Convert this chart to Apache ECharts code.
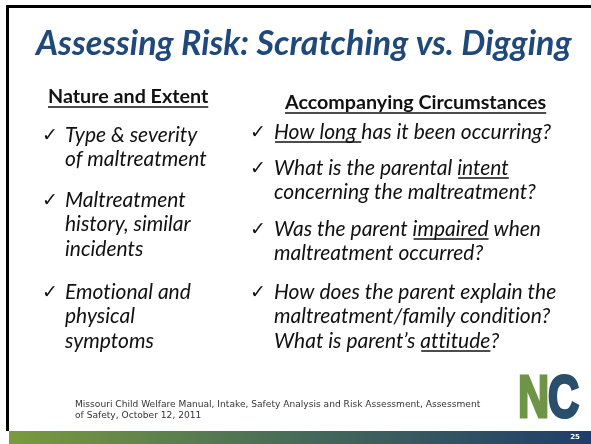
<!DOCTYPE html>
<html><head><meta charset="utf-8">
<script src="https://cdn.jsdelivr.net/npm/echarts@6/dist/echarts.min.js"></script>
<style>html,body{margin:0;padding:0;background:#fff}#c{width:591px;height:444px}</style>
</head><body><div id="c"></div>
<script>
const title = 'Assessing Risk: Scratching vs. Digging';
const leftHeading = 'Nature and Extent';
const rightHeading = 'Accompanying Circumstances';
// each item: lines; each line: segments [text, underlined]
const leftItems = [
  [[['Type & severity', 0]], [['of maltreatment', 0]]],
  [[['Maltreatment', 0]], [['history, similar', 0]], [['incidents', 0]]],
  [[['Emotional and', 0]], [['physical', 0]], [['symptoms', 0]]]
];
const rightItems = [
  [[['How long ', 1], ['has it been occurring?', 0]]],
  [[['What is the parental ', 0], ['intent', 1]], [['concerning the maltreatment?', 0]]],
  [[['Was the parent ', 0], ['impaired', 1], [' when', 0]], [['maltreatment occurred?', 0]]],
  [[['How does the parent explain the', 0]], [['maltreatment/family condition?', 0]], [['What is parent\u2019s ', 0], ['attitude', 1], ['?', 0]]]
];
const footnote = ['Missouri Child Welfare Manual, Intake, Safety Analysis and Risk Assessment, Assessment', 'of Safety, October 12, 2011'];
const logoLetters = ['N', 'C'];
const logoColors = ['#6e9447', '#2a4f6c'];
const pageNumber = '25';

const chart = echarts.init(document.getElementById('c'), null, {renderer: 'canvas'});
const ctx = document.createElement('canvas').getContext('2d');
function noLig(t) { return t.replace(/t(?=[ift])/g, 't\u200C').replace(/f(?=[ilft])/g, 'f\u200C'); }
function measure(t, font) { ctx.font = font; return ctx.measureText(noLig(t)).width; }

const TITLE_FONT = 'italic bold 34px Lato';
const HEAD_FONT = 'bold 19.7px Lato';
const BODY_FONT = 'italic 21px Lato';
const CHECK_FONT = '19px "DejaVu Sans"';
const FOOT_FONT = '9.1px "DejaVu Sans"';
const textColor = '#111';

const els = [];
function txt(x, y, t, font, fill, align) {
  els.push({type: 'text', x: x, y: y, silent: true,
    style: {text: noLig(t), font: font, fill: fill, textAlign: align || 'left', textVerticalAlign: 'middle'}});
}
function uline(x1, x2, y, color, w) {
  els.push({type: 'line', silent: true, shape: {x1: x1, y1: y, x2: x2, y2: y}, style: {stroke: color, lineWidth: w}});
}

// frame
els.push({type: 'rect', silent: true, shape: {x: 6, y: 5, width: 585, height: 3}, style: {fill: '#000'}});
els.push({type: 'rect', silent: true, shape: {x: 6, y: 5, width: 3, height: 426}, style: {fill: '#000'}});
// bottom bar
els.push({type: 'rect', silent: true, shape: {x: 9, y: 431, width: 582, height: 13},
  style: {fill: new echarts.graphic.LinearGradient(0, 0, 1, 0, [
    {offset: 0, color: '#7a9b3d'}, {offset: 0.45, color: '#4a6f57'}, {offset: 1, color: '#1f3d6b'}])}});
txt(575, 437.5, pageNumber, 'bold 7px "DejaVu Sans"', '#fff', 'center');

// title
txt(36, 44, title, TITLE_FONT, '#1f497d');

// headings
function heading(x, y, t) {
  txt(x, y, t, HEAD_FONT, textColor);
  uline(x, x + measure(t, HEAD_FONT), y + 10, textColor, 1.4);
}
heading(48, 97, leftHeading);
heading(285, 103, rightHeading);

function list(items, starts, step, cx, tx) {
  items.forEach(function (item, i) {
    txt(cx, starts[i] + 1, '\u2713', CHECK_FONT, textColor);
    item.forEach(function (line, j) {
      const y = starts[i] + j * step;
      let x = tx;
      line.forEach(function (seg) {
        const w = measure(seg[0], BODY_FONT);
        txt(x, y, seg[0], BODY_FONT, textColor);
        if (seg[1]) uline(x + 1, x + w, y + 10, textColor, 1.4);
        x += w;
      });
    });
  });
}
list(leftItems, [135, 200, 292], 24.5, 42, 65);
list(rightItems, [132, 168, 229, 292], 24.5, 250, 274);

// footnote
footnote.forEach(function (t, i) { txt(75, 405 + i * 11, t, FOOT_FONT, '#333'); });

// logo
logoLetters.forEach(function (ch, i) {
  els.push({type: 'text', x: 518 + i * 30, y: 400, scaleX: 0.72, silent: true,
    style: {text: ch, font: 'bold 60px "Liberation Sans"', textAlign: 'left', textVerticalAlign: 'middle',
      fill: logoColors[i], stroke: logoColors[i], lineWidth: 3}});
});

chart.setOption({animation: false, graphic: {elements: els}});
</script></body></html>
